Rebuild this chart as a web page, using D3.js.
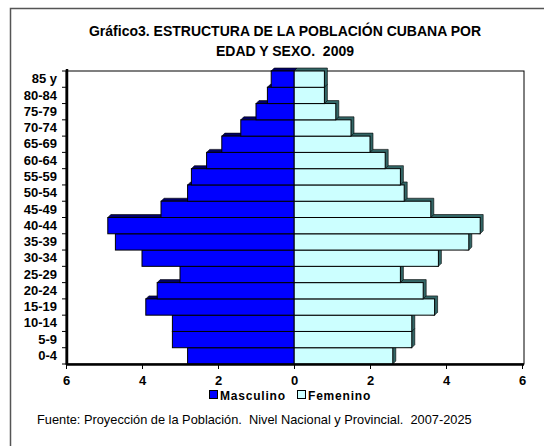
<!DOCTYPE html>
<html><head><meta charset="utf-8">
<script src="https://cdn.jsdelivr.net/npm/d3@7"></script>
<style>body{margin:0;background:#fff}svg{display:block;font-family:"Liberation Sans",Arial,sans-serif}text{white-space:pre}</style>
</head><body>
<script>
const categories = ["0-4","5-9","10-14","15-19","20-24","25-29","30-34","35-39","40-44","45-49","50-54","55-59","60-64","65-69","70-74","75-79","80-84","85 y"];
const masculino = [2.8,3.2,3.2,3.9,3.6,3.0,4.0,4.7,4.9,3.5,2.8,2.7,2.3,1.9,1.4,1.0,0.7,0.6];
const femenino  = [2.6,3.1,3.1,3.7,3.4,2.8,3.8,4.6,4.9,3.6,2.9,2.8,2.4,2.0,1.5,1.1,0.8,0.8];
const tickValues = [-6,-4,-2,0,2,4,6];
const titleLines = ["Gráfico3. ESTRUCTURA DE LA POBLACIÓN CUBANA POR","EDAD Y SEXO.  2009"];
const seriesNames = ["Masculino","Femenino"];
const source = "Fuente: Proyección de la Población.  Nivel Nacional y Provincial.  2007-2025";

const W=544,H=446;
const svg=d3.select("body").append("svg").attr("width",W).attr("height",H);
svg.append("rect").attr("x",0).attr("y",0).attr("width",W).attr("height",H).attr("fill","#fff");
svg.append("path").attr("d","M10.5,460 L10.5,8.5 L560,8.5").attr("fill","none").attr("stroke","#555").attr("stroke-width",1.5);

const x=d3.scaleLinear().domain([-6,6]).range([66,522]);
const y=d3.scaleBand().domain(categories.slice().reverse()).range([71,364]).padding(0);

svg.append("g").selectAll("text").data(titleLines).join("text")
  .attr("x",285).attr("y",(d,i)=>36+i*20).attr("text-anchor","middle")
  .attr("font-weight","bold").attr("font-size",14).attr("fill","#000").text(d=>d);

svg.append("rect").attr("x",66).attr("y",71).attr("width",458).attr("height",293)
  .attr("fill","#fff").attr("stroke","#000").attr("stroke-width",1);

const d=3;
const rows=categories.map((c,i)=>({c,m:masculino[i],f:femenino[i]}));
const g=svg.append("g");
rows.forEach(r=>{
  const y0=y(r.c), y1=y0+y.bandwidth();
  const xm=x(-r.m), x0=x(0), xf=x(r.f);
  g.append("path").attr("d",`M${x0},${y0} L${x0+d},${y0-d} L${xf+d},${y0-d} L${xf+d},${y1-d} L${xf},${y1} Z`)
    .attr("fill","#336666").attr("stroke","#000").attr("stroke-width",0.6);
  g.append("rect").attr("x",x0).attr("y",y0).attr("width",xf-x0).attr("height",y1-y0)
    .attr("fill","#CCFFFF").attr("stroke","#000").attr("stroke-width",1);
  g.append("path").attr("d",`M${xm},${y0} L${xm+d},${y0-d} L${x0+d},${y0-d} L${x0},${y0} Z`)
    .attr("fill","#000066").attr("stroke","#000").attr("stroke-width",0.6);
  g.append("rect").attr("x",xm).attr("y",y0).attr("width",x0-xm).attr("height",y1-y0)
    .attr("fill","#0000FF").attr("stroke","#000").attr("stroke-width",1);
});

svg.append("line").attr("x1",67).attr("x2",67).attr("y1",69).attr("y2",365).attr("stroke","#000").attr("stroke-width",2.5);
svg.append("line").attr("x1",66).attr("x2",524).attr("y1",364.5).attr("y2",364.5).attr("stroke","#000").attr("stroke-width",2.5);

const ya=d3.axisLeft(y).tickSize(0).tickPadding(9);
const yg=svg.append("g").attr("transform","translate(66,0)").call(ya);
yg.select(".domain").remove();
yg.selectAll("text").attr("font-family","Liberation Sans, Arial").attr("font-weight","bold").attr("font-size",13).attr("fill","#000");
const bounds=d3.range(categories.length+1).map(i=>71+i*y.bandwidth());
svg.append("g").selectAll("line").data(bounds).join("line")
  .attr("x1",62).attr("x2",66).attr("y1",b=>b).attr("y2",b=>b).attr("stroke","#000");

const xa=d3.axisBottom(x).tickValues(tickValues).tickFormat(v=>Math.abs(v)).tickSize(4).tickPadding(7);
const xg=svg.append("g").attr("transform","translate(0,365)").call(xa);
xg.select(".domain").remove();
xg.selectAll("text").attr("font-family","Liberation Sans, Arial").attr("font-weight","bold").attr("font-size",13).attr("fill","#000");
xg.selectAll("line").attr("stroke","#000");

const leg=svg.append("g");
const lx=[209,297], colors=["#0000FF","#CCFFFF"];
seriesNames.forEach((n,i)=>{
  leg.append("rect").attr("x",lx[i]+0.5).attr("y",390.5).attr("width",8).attr("height",8).attr("fill",colors[i]).attr("stroke","#000");
  leg.append("text").attr("x",lx[i]+11).attr("y",399.5).attr("font-weight","bold").attr("font-size",12)
    .attr("letter-spacing",0.8).text(n);
});

svg.append("text").attr("x",37).attr("y",424).attr("font-size",12.8).attr("fill","#000").text(source);
</script>
</body></html>
